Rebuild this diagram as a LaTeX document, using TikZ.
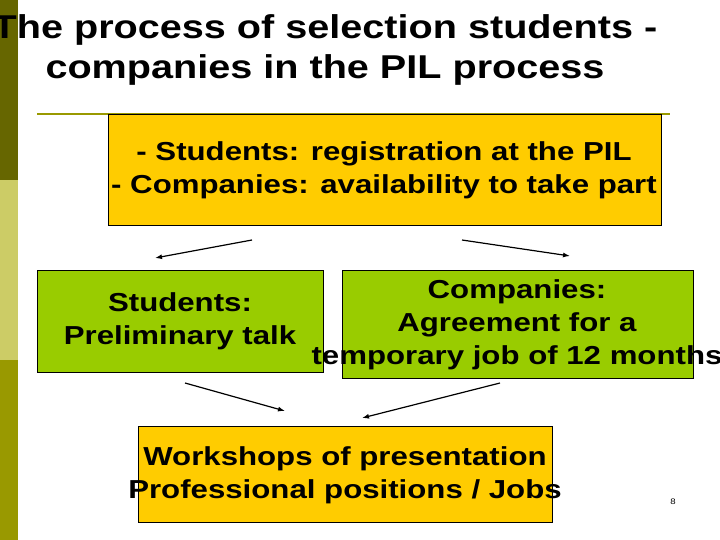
\documentclass[tikz,border=0pt]{standalone}
\usepackage{fontspec}
\setmainfont[FakeStretch=1.2]{Liberation Sans}
\usetikzlibrary{positioning,arrows.meta}
\definecolor{olivedark}{HTML}{666600}
\definecolor{olivelight}{HTML}{CCCC66}
\definecolor{olivemid}{HTML}{999900}
\definecolor{boxorange}{HTML}{FFCC00}
\definecolor{boxgreen}{HTML}{99CC00}
\tikzset{
  panel/.style={draw=black, thin},
  body/.style={font=\bfseries\fontsize{26}{33}\selectfont, align=center, inner sep=0pt},
  flow/.style={-{Latex[length=7pt,width=5pt]}, line width=1.2pt}
}
\begin{document}
\begin{tikzpicture}[x=1pt,y=-1pt]
  \useasboundingbox (0,0) rectangle (720,540);
  % side bar
  \fill[olivedark] (0,0) rectangle (18,180);
  \fill[olivelight] (0,180) rectangle (18,360);
  \fill[olivemid] (0,360) rectangle (18,540);
  % title
  \node[font=\bfseries\fontsize{33}{40}\selectfont, align=center, inner sep=0pt] (title) at (325,50)
    {The process of selection students -\\companies in the PIL process};
  \draw[olivemid, line width=1.5pt] (37,114) -- (670,114);
  % boxes
  \filldraw[panel, fill=boxorange] (108,114) rectangle (661,225);
  \filldraw[panel, fill=boxgreen] (37,270) rectangle (323,372);
  \filldraw[panel, fill=boxgreen] (342,270) rectangle (693,378);
  \filldraw[panel, fill=boxorange] (138,426) rectangle (552,522);
  % texts
  \node[body] (reg) at (384,170) {- Students: registration at the PIL\\- Companies: availability to take part};
  \node[body] (stud) at (180,321) {Students:\\Preliminary talk};
  \node[body] (comp) at (517,325) {Companies:\\Agreement for a\\temporary job of 12 months};
  \node[body] (work) at (345,475) {Workshops of presentation\\Professional positions / Jobs};
  \node[font=\fontsize{8}{9}\selectfont] (page) at (673,502) {8};
  % arrows
  \coordinate (a1) at (252,240); \coordinate (b1) at (155,258);
  \coordinate (a2) at (462,240); \coordinate (b2) at (570,256);
  \coordinate (a3) at (185,383); \coordinate (b3) at (285,411);
  \coordinate (a4) at (500,383); \coordinate (b4) at (362,418);
  \draw[flow] (a1) -- (b1);
  \draw[flow] (a2) -- (b2);
  \draw[flow] (a3) -- (b3);
  \draw[flow] (a4) -- (b4);
\end{tikzpicture}
\end{document}
